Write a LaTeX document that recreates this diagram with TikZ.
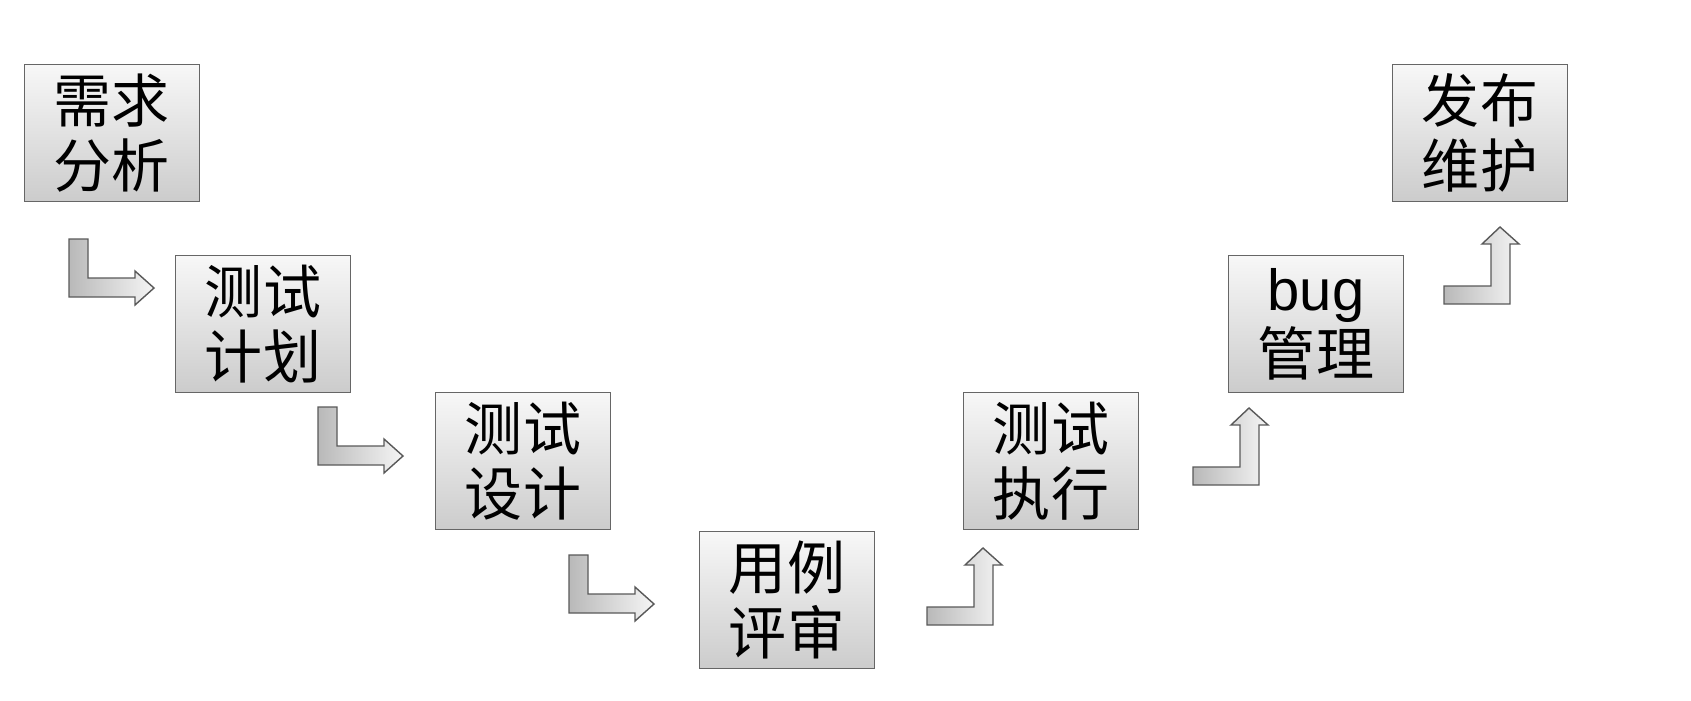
\documentclass[tikz,border=0pt]{standalone}
\usepackage{fontspec}
\newfontfamily\cjk{Noto Sans CJK SC}
\newfontfamily\lat{Liberation Sans}
\begin{document}
\begin{tikzpicture}[x=0.01cm,y=-0.01cm,
  box/.style={draw=gray!80!black,top color=gray!6,bottom color=gray!40,minimum width=1.75cm,minimum height=1.37cm,inner sep=0pt,align=center,font=\cjk\fontsize{16.5}{18.5}\selectfont},
  barr/.style={draw=gray!70!black,left color=gray!55,right color=gray!8}]
\useasboundingbox (0,0) rectangle (1691,700);
\node[box] (a) at (112,133) {需求\\分析};
\node[box] (b) at (263,324) {测试\\计划};
\node[box] (c) at (523,461) {测试\\设计};
\node[box] (d) at (787,600) {用例\\评审};
\node[box] (e) at (1051,461) {测试\\执行};
\node[box] (f) at (1316,324) {{\lat bug}\\管理};
\node[box] (g) at (1480,133) {发布\\维护};
\foreach \x/\y in {69/239,318/407,569/555}{
  \draw[barr,shift={(\x,\y)}] (0,0)--(19,0)--(19,39)--(66,39)--(66,32)--(85,49)--(66,66)--(66,58)--(0,58)--cycle;}
\foreach \x/\y in {927/625,1193/485,1444/304}{
  \draw[barr,shift={(\x,\y)}] (0,0)--(0,-18)--(47,-18)--(47,-60)--(38,-60)--(56,-77)--(75,-60)--(66,-60)--(66,0)--cycle;}
\end{tikzpicture}
\end{document}
